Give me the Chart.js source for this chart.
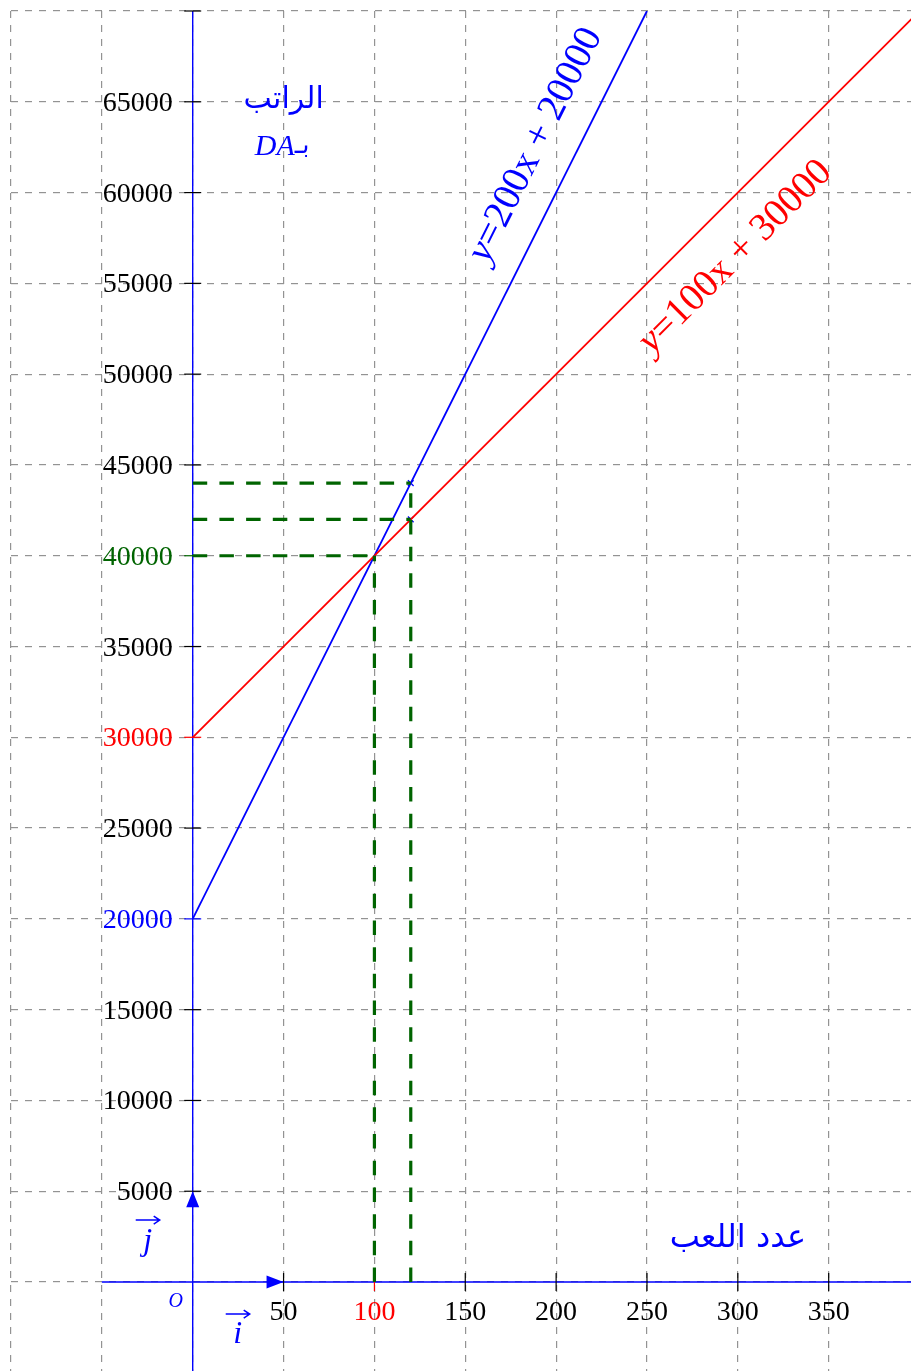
<!DOCTYPE html>
<html lang="ar">
<head>
<meta charset="UTF-8">
<title>الراتب</title>
<script src="https://cdn.jsdelivr.net/npm/chart.js"></script>
<style>
  html, body { margin:0; padding:0; background:#fff; overflow:hidden; }
  #wrap { position:relative; width:911px; height:1371px; }
</style>
</head>
<body>
<div id="wrap"><canvas id="salaryChart"></canvas></div>
<script>
  // x = number of games, y = salary in DA
  const xTickValues = [50, 100, 150, 200, 250, 300, 350];
  const yTickValues = [5000, 10000, 15000, 20000, 25000, 30000, 35000, 40000,
                       45000, 50000, 55000, 60000, 65000, 70000];

  // offer 1 : y = 200x + 20000
  const offerOneX = [0, 250];
  const offerOneY = [20000, 70000];
  // offer 2 : y = 100x + 30000
  const offerTwoX = [0, 400];
  const offerTwoY = [30000, 70000];

  // where both offers pay the same
  const meetX = 100;
  const meetY = 40000;
  // reading the two salaries at 120 games
  const checkX = 120;
  const checkY = [42000, 44000];

  const BLUE = '#0000ff', RED = '#ff0000', GREEN = '#006400';
  const SERIF = '"Liberation Serif", "DejaVu Serif", serif';
  const ARABIC = '"DejaVu Sans", sans-serif';

  const labelColor = { 100: RED, 20000: BLUE, 30000: RED, 40000: GREEN };

  const pts = (xs, ys) => xs.map((v, i) => ({ x: v, y: ys[i] }));

  const guide = data => ({
    data, showLine: true, borderColor: GREEN, borderWidth: 3.2,
    borderDash: [14.5, 12.2], pointRadius: 0
  });

  const datasets = [
    guide([{ x: 0, y: meetY }, { x: meetX, y: meetY }]),
    guide([{ x: meetX, y: 0 }, { x: meetX, y: meetY }]),
    ...checkY.map(v => guide([{ x: 0, y: v }, { x: checkX, y: v }])),
    guide([{ x: checkX, y: 0 }, { x: checkX, y: Math.max(...checkY) }]),
    { data: pts(offerTwoX, offerTwoY), showLine: true, borderColor: RED, borderWidth: 1.8, pointRadius: 0 },
    { data: pts(offerOneX, offerOneY), showLine: true, borderColor: BLUE, borderWidth: 1.8, pointRadius: 0 },
    { data: checkY.map(v => ({ x: checkX, y: v })), showLine: false, pointStyle: 'crossRot',
      pointRadius: 4, borderColor: BLUE, borderWidth: 1.3, backgroundColor: BLUE }
  ];

  function every(from, to, step) {
    const out = [];
    for (let v = from; v <= to; v += step) out.push({ value: v });
    return out;
  }

  const gridLook = {
    grid: { color: '#939393', lineWidth: 1.2, drawTicks: false },
    border: { display: false, dash: [7, 7] },
    ticks: { display: false }
  };

  // rotated equation written next to its line
  function slantLabel(ctx, cx, cy, angle, color, lead, rest, size) {
    ctx.save();
    ctx.translate(cx, cy);
    ctx.rotate(angle);
    ctx.fillStyle = color;
    ctx.textBaseline = 'middle';
    ctx.textAlign = 'left';
    ctx.font = `italic ${size}px ${SERIF}`;
    const w1 = ctx.measureText(lead).width;
    ctx.font = `${size}px ${SERIF}`;
    const w2 = ctx.measureText(rest).width;
    const sx = -(w1 + w2) / 2;
    ctx.font = `italic ${size}px ${SERIF}`;
    ctx.fillText(lead, sx, 0);
    ctx.font = `${size}px ${SERIF}`;
    ctx.fillText(rest, sx + w1, 0);
    ctx.restore();
  }

  function vecLabel(ctx, letter, cx, base, arrowY) {
    ctx.font = `italic 32px ${SERIF}`;
    ctx.textAlign = 'center';
    ctx.fillText(letter, cx, base);
    ctx.beginPath();
    ctx.moveTo(cx - 12, arrowY); ctx.lineTo(cx + 12, arrowY);
    ctx.moveTo(cx + 6, arrowY - 4); ctx.lineTo(cx + 12, arrowY); ctx.lineTo(cx + 6, arrowY + 4);
    ctx.stroke();
  }

  const decorations = {
    id: 'decorations',
    beforeDatasetsDraw(chart) {
      const { ctx, chartArea, scales: { x, y } } = chart;
      const x0 = x.getPixelForValue(0), y0 = y.getPixelForValue(0);
      ctx.save();
      // axes
      ctx.strokeStyle = BLUE;
      ctx.lineWidth = 1.4;
      ctx.beginPath();
      ctx.moveTo(x0, chartArea.bottom); ctx.lineTo(x0, y.getPixelForValue(70000));
      ctx.moveTo(x.getPixelForValue(-50), y0); ctx.lineTo(chartArea.right, y0);
      ctx.stroke();
      // tick marks
      ctx.lineWidth = 1.2;
      yTickValues.forEach(v => {
        const py = y.getPixelForValue(v);
        ctx.strokeStyle = labelColor[v] || '#000';
        ctx.beginPath(); ctx.moveTo(x0 - 8.5, py); ctx.lineTo(x0 + 8.5, py); ctx.stroke();
      });
      xTickValues.forEach(v => {
        const px = x.getPixelForValue(v);
        ctx.strokeStyle = labelColor[v] || '#000';
        ctx.beginPath(); ctx.moveTo(px, y0 - 9); ctx.lineTo(px, y0 + 9); ctx.stroke();
      });
      ctx.restore();
    },
    afterDatasetsDraw(chart) {
      const { ctx, scales: { x, y } } = chart;
      const x0 = x.getPixelForValue(0), y0 = y.getPixelForValue(0);
      ctx.save();

      // tick labels
      ctx.font = `28px ${SERIF}`;
      ctx.textBaseline = 'alphabetic';
      ctx.textAlign = 'right';
      yTickValues.filter(v => v < 70000).forEach(v => {
        ctx.fillStyle = labelColor[v] || '#000';
        ctx.fillText(String(v), x0 - 20, y.getPixelForValue(v) + 9);
      });
      ctx.textAlign = 'center';
      xTickValues.forEach(v => {
        ctx.fillStyle = labelColor[v] || '#000';
        ctx.fillText(String(v), x.getPixelForValue(v), y0 + 38);
      });

      // unit vectors i and j
      ctx.fillStyle = BLUE;
      ctx.strokeStyle = BLUE;
      ctx.lineWidth = 1.4;
      const ix = x.getPixelForValue(50), jy = y.getPixelForValue(5000);
      ctx.beginPath();
      ctx.moveTo(ix, y0); ctx.lineTo(ix - 17, y0 - 6.5); ctx.lineTo(ix - 17, y0 + 6.5); ctx.closePath();
      ctx.moveTo(x0, jy); ctx.lineTo(x0 - 6.5, jy + 16); ctx.lineTo(x0 + 6.5, jy + 16); ctx.closePath();
      ctx.fill();
      ctx.lineWidth = 1.5;
      vecLabel(ctx, 'j', x0 - 45, y0 - 32, y0 - 62);
      vecLabel(ctx, 'i', x0 + 45, y0 + 61, y0 + 32);

      ctx.font = `italic 20px ${SERIF}`;
      ctx.textAlign = 'center';
      ctx.fillText('O', x0 - 17, y0 + 25);

      // axis titles
      ctx.font = `30px ${ARABIC}`;
      ctx.fillText('الراتب', x0 + 91, 108);
      ctx.font = `italic 30px ${SERIF}`;
      ctx.textAlign = 'right';
      ctx.fillText('DA', x0 + 102, 155);
      ctx.font = `26px ${ARABIC}`;
      ctx.textAlign = 'left';
      ctx.fillText('بـ', x0 + 102, 153);
      ctx.font = `32px ${ARABIC}`;
      ctx.textAlign = 'center';
      ctx.fillText('عدد اللعب', x.getPixelForValue(300), y0 - 35);

      // equations along each line
      const ang = (xs, ys) => Math.atan2(
        y.getPixelForValue(ys[1]) - y.getPixelForValue(ys[0]),
        x.getPixelForValue(xs[1]) - x.getPixelForValue(xs[0]));
      slantLabel(ctx, x.getPixelForValue(188.7), y.getPixelForValue(62620),
        ang(offerOneX, offerOneY), BLUE, 'y', '=200x + 20000', 39);
      slantLabel(ctx, x.getPixelForValue(298.7), y.getPixelForValue(56450),
        ang(offerTwoX, offerTwoY), RED, 'y', '=100x + 30000', 39);

      ctx.restore();
    }
  };

  new Chart(document.getElementById('salaryChart'), {
    type: 'scatter',
    data: { datasets },
    options: {
      responsive: true,
      maintainAspectRatio: false,
      animation: false,
      layout: { autoPadding: false, padding: { left: 11, top: 11, right: 0, bottom: 0 } },
      plugins: { legend: { display: false }, tooltip: { enabled: false } },
      scales: {
        x: {
          type: 'linear', min: -100, max: 395.3, ...gridLook,
          afterBuildTicks: s => { s.ticks = every(-100, 350, 50); },
          afterFit: s => { s.height = 0; }
        },
        y: {
          type: 'linear', min: -4900, max: 70000, ...gridLook,
          afterBuildTicks: s => { s.ticks = every(0, 70000, 5000); },
          afterFit: s => { s.width = 0; }
        }
      }
    },
    plugins: [decorations]
  });
</script>
</body>
</html>
